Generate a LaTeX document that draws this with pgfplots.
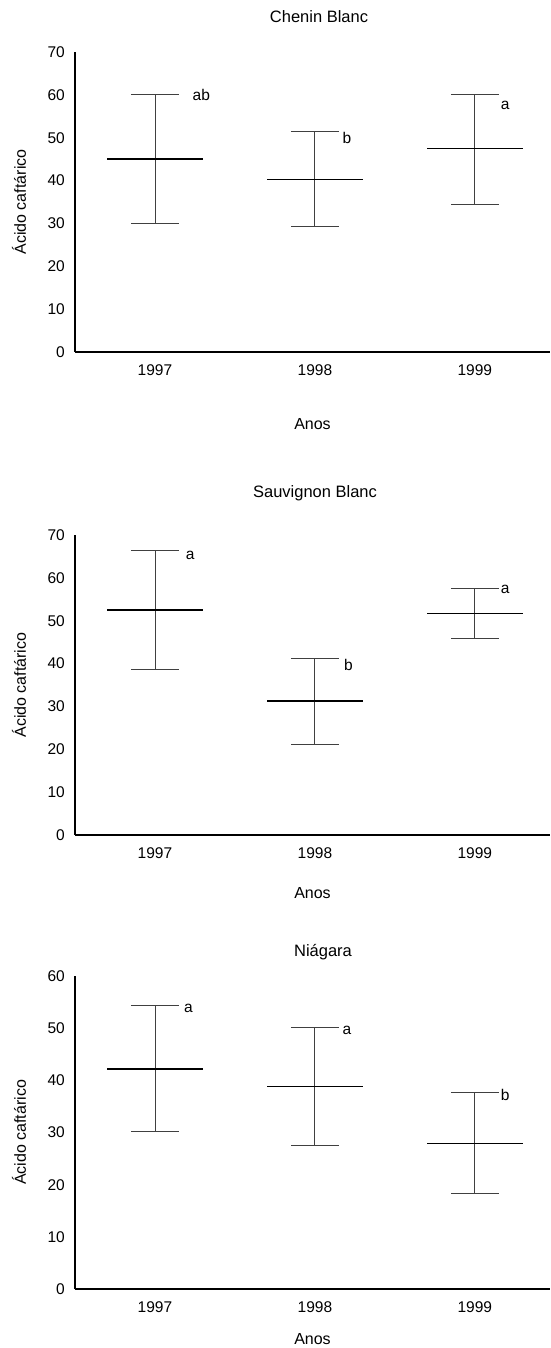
\documentclass[border=0pt]{standalone}
\usepackage{fontspec}
\setmainfont{Liberation Sans}
\usepackage{pgfplots}
\usepackage{pgfplotstable}
\pgfplotsset{compat=1.18}

\pgfplotstableread{
x m ep em
1 45.0 15.0 15.1
2 40.2 11.2 11.0
3 47.4 12.8 12.9
}\chenin
\pgfplotstableread{
x m ep em
1 52.5 14.0 13.9
2 31.3 9.8 10.1
3 51.7 5.9 5.9
}\sauvignon
\pgfplotstableread{
x m ep em
1 42.2 12.1 12.0
2 38.8 11.3 11.3
3 27.9 9.7 9.6
}\niagara

\tikzset{letter/.style={font=\fontsize{15.5}{18}\selectfont, inner sep=0pt, anchor=center}}

\pgfplotsset{
  panel/.style={
    scale only axis, width=475pt,
    anchor=south west,
    xmin=0.5, xmax=3.47,
    ymin=0,
    axis lines*=left,
    axis line style={line width=1.6pt, black},
    major tick length=0pt,
    xtick={1,2,3}, xticklabels={1997,1998,1999},
    /pgf/number format/assume math mode=true,
    tick label style={font=\fontsize{15.5}{18}\selectfont},
    yticklabel style={anchor=east, inner sep=0pt, xshift=-10pt},
    xticklabel style={anchor=north, inner sep=0pt, yshift=-12pt},
    label style={font=\fontsize{16}{19}\selectfont},
    title style={font=\fontsize{16.5}{19}\selectfont, anchor=center, inner sep=0pt},
    ylabel={Ácido caftárico},
    xlabel={Anos},
    ylabel style={at={(axis description cs:-0.118,0.5)}, anchor=center, inner sep=0pt},
    clip=false,
  },
  ebar/.style={
    only marks, black, mark=-, mark size=48pt,
    mark options={line width=1.3pt, black},
    error bars/.cd, y dir=both, y explicit,
    error bar style={line width=0.9pt, black!75},
    error mark=|,
    error mark options={line width=0.9pt, black!75, mark size=24pt},
  },
}

\begin{document}
\begin{tikzpicture}
\useasboundingbox (0,0) rectangle (550pt,1348pt);

% Chenin Blanc
\begin{axis}[panel, at={(75pt,996pt)}, height=300pt, ymax=70,
  ytick={0,10,...,70},
  title={Chenin Blanc},
  title style={at={(axis description cs:0.5,1)}, yshift=29pt, xshift=6.5pt},
  xlabel style={at={(axis description cs:0.5,0)}, anchor=center, yshift=-72pt, inner sep=0pt},
]
\addplot[ebar] table[x=x, y=m, y error plus=ep, y error minus=em] {\chenin};
\node[letter] at (axis cs:1.29,60.0) {ab};
\node[letter] at (axis cs:2.20,49.9) {b};
\node[letter] at (axis cs:3.19,57.5) {a};
\end{axis}

% Sauvignon Blanc
\begin{axis}[panel, at={(75pt,513pt)}, height=300pt, ymax=70,
  ytick={0,10,...,70},
  title={Sauvignon Blanc},
  title style={at={(axis description cs:0.5,1)}, yshift=36pt, xshift=2.5pt},
  xlabel style={at={(axis description cs:0.5,0)}, anchor=center, yshift=-58pt, inner sep=0pt},
]
\addplot[ebar] table[x=x, y=m, y error plus=ep, y error minus=em] {\sauvignon};
\node[letter] at (axis cs:1.22,65.2) {a};
\node[letter] at (axis cs:2.21,39.7) {b};
\node[letter] at (axis cs:3.19,57.3) {a};
\end{axis}

% Niágara
\begin{axis}[panel, at={(75pt,59pt)}, height=313pt, ymax=60,
  ytick={0,10,...,60},
  title={Niágara},
  title style={at={(axis description cs:0.5,1)}, yshift=18pt, xshift=10.5pt},
  xlabel style={at={(axis description cs:0.5,0)}, anchor=center, yshift=-50pt, inner sep=0pt},
]
\addplot[ebar] table[x=x, y=m, y error plus=ep, y error minus=em] {\niagara};
\node[letter] at (axis cs:1.21,53.8) {a};
\node[letter] at (axis cs:2.20,49.6) {a};
\node[letter] at (axis cs:3.19,37.2) {b};
\end{axis}
\end{tikzpicture}
\end{document}
